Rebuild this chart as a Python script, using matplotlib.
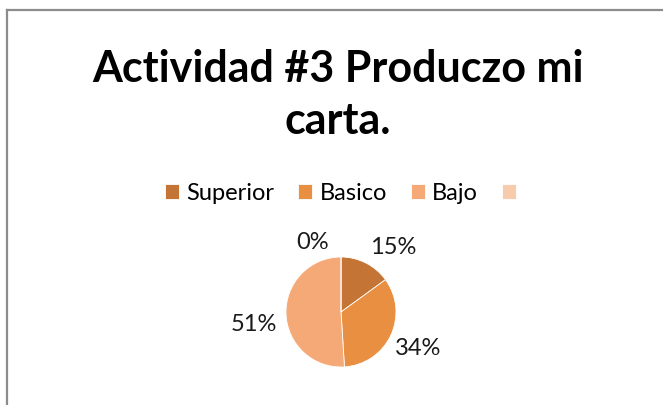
import matplotlib.pyplot as plt
from matplotlib.lines import Line2D

plt.rcParams['font.family'] = ['Lato', 'DejaVu Sans']

categories = ['Superior', 'Basico', 'Bajo', '']
shares = [15, 34, 51, 0]
colors = ['#C47535', '#E88F42', '#F5A977', '#F8CBAD']
title = 'Actividad #3 Produczo mi\ncarta.'

W, H = 663, 405
fig = plt.figure(figsize=(W / 100, H / 100), dpi=100)

# chart frame (only left and top edge visible in the crop)
frame_color = '#8C8C8C'
fig.add_artist(Line2D([7 / W, 7 / W], [0, 1 - 10 / H], color=frame_color, lw=1.6,
                      transform=fig.transFigure))
fig.add_artist(Line2D([7 / W, 1], [1 - 10 / H, 1 - 10 / H], color=frame_color, lw=1.6,
                      transform=fig.transFigure))

fig.text(338 / W, 1 - 95 / H, title, ha='center', va='center',
         fontsize=31, fontweight='bold', linespacing=1.37)

# pie centred at (341, 312) px, radius ~55 px
cx, cy, r = 341, 312, 55
ax = fig.add_axes([(cx - r) / W, (H - cy - r) / H, 2 * r / W, 2 * r / H])
wedges, texts, autotexts = ax.pie(
    shares, colors=colors, startangle=90, counterclock=False,
    autopct='%1.0f%%', pctdistance=1.55,
    wedgeprops=dict(edgecolor='white', linewidth=0.6),
    textprops=dict(fontsize=17, color='#1a1a1a'))
ax.set_xlim(-1, 1)
ax.set_ylim(-1, 1)
ax.set_aspect('equal')

# nudge labels where Excel's best-fit put them
nudges = [(0.25, -0.2), (0.0, 0.0), (-0.04, -0.18), (-0.51, -0.29)]
for t, (dx, dy) in zip(autotexts, nudges):
    x, y = t.get_position()
    t.set_position((x + dx, y + dy))

fig.legend(wedges, categories, loc='center', bbox_to_anchor=(344 / W, 1 - 193 / H),
           ncol=4, frameon=False, fontsize=17, handlelength=0.62, handleheight=0.62,
           handletextpad=0.3, columnspacing=1.0)

plt.savefig('out.png', dpi=100)
